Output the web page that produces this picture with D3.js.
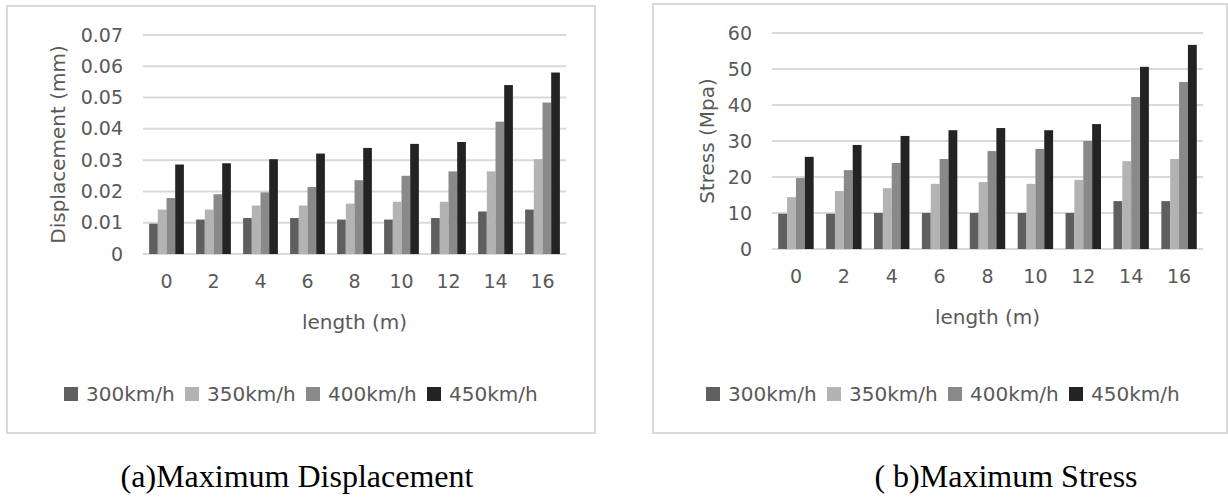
<!DOCTYPE html>
<html>
<head>
<meta charset="utf-8">
<script src="https://cdn.jsdelivr.net/npm/d3@7"></script>
<style>
  body { margin: 0; background: #fff; }
  svg text { font-family: "DejaVu Sans", sans-serif; fill: #595959; }
  svg text.caption { font-family: "Liberation Serif", "Times New Roman", serif; fill: #000; }
</style>
</head>
<body>
<svg id="fig" width="1228" height="499"></svg>
<script>
// categories and series
const lengths = ["0", "2", "4", "6", "8", "10", "12", "14", "16"];
const speeds = ["300km/h", "350km/h", "400km/h", "450km/h"];
const speedColors = ["#5f5f5f", "#b3b3b3", "#898989", "#232323"];

// (a) maximum displacement (mm), one array per speed
const disp300 = [0.0097, 0.0110, 0.0115, 0.0115, 0.0110, 0.0110, 0.0115, 0.0136, 0.0142];
const disp350 = [0.0142, 0.0142, 0.0155, 0.0155, 0.0161, 0.0167, 0.0167, 0.0264, 0.0303];
const disp400 = [0.0179, 0.0191, 0.0197, 0.0214, 0.0236, 0.0250, 0.0264, 0.0423, 0.0484];
const disp450 = [0.0286, 0.0290, 0.0303, 0.0321, 0.0339, 0.0352, 0.0358, 0.0540, 0.0580];
const dispTicks = [0, 0.01, 0.02, 0.03, 0.04, 0.05, 0.06, 0.07];

// (b) maximum stress (MPa)
const stress300 = [9.8, 9.8, 10.0, 10.0, 10.0, 10.0, 10.0, 13.3, 13.3];
const stress350 = [14.4, 16.1, 16.9, 18.1, 18.6, 18.1, 19.2, 24.4, 25.0];
const stress400 = [19.7, 21.9, 23.9, 25.0, 27.2, 27.8, 30.0, 42.2, 46.4];
const stress450 = [25.6, 28.9, 31.4, 33.0, 33.6, 33.0, 34.7, 50.6, 56.7];
const stressTicks = [0, 10, 20, 30, 40, 50, 60];

const svg = d3.select("#fig");

function drawChart(cfg) {
    const g = svg.append("g");

    // chart frame
    g.append("rect")
        .attr("x", cfg.box[0]).attr("y", cfg.box[1])
        .attr("width", cfg.box[2]).attr("height", cfg.box[3])
        .attr("fill", "#fff").attr("stroke", "#d9d9d9").attr("stroke-width", 2);

    const x = d3.scaleBand()
        .domain(lengths)
        .range([cfg.left, cfg.right])
        .paddingInner(0.26)
        .paddingOuter(0.13);

    const xs = d3.scaleBand()
        .domain(speeds)
        .range([0, x.bandwidth()]);

    const y = d3.scaleLinear()
        .domain([0, d3.max(cfg.ticks)])
        .range([cfg.bottom, cfg.top]);

    // gridlines
    g.append("g").selectAll("line")
        .data(cfg.ticks)
        .join("line")
        .attr("x1", cfg.left).attr("x2", cfg.right)
        .attr("y1", d => y(d)).attr("y2", d => y(d))
        .attr("stroke", "#d9d9d9").attr("stroke-width", 2);

    // y axis labels
    const yAxis = g.append("g")
        .attr("transform", `translate(${cfg.left - 20},0)`)
        .call(d3.axisLeft(y).tickValues(cfg.ticks).tickFormat(cfg.fmt).tickSize(0).tickPadding(0));
    yAxis.select(".domain").remove();
    yAxis.selectAll("text").attr("font-size", 19).attr("font-family", null).attr("fill", null);

    // x axis labels
    const xAxis = g.append("g")
        .attr("transform", `translate(0,${cfg.bottom + 20})`)
        .call(d3.axisBottom(x).tickSize(0).tickPadding(0));
    xAxis.select(".domain").remove();
    xAxis.selectAll("text").attr("font-size", 19).attr("font-family", null).attr("fill", null);

    // bars
    const rows = lengths.map((l, i) => ({ len: l, vals: cfg.series.map(s => s[i]) }));
    g.append("g").selectAll("g")
        .data(rows)
        .join("g")
        .attr("transform", d => `translate(${x(d.len)},0)`)
        .selectAll("rect")
        .data(d => d.vals.map((v, k) => ({ v: v, k: k })))
        .join("rect")
        .attr("x", d => xs(speeds[d.k]))
        .attr("width", xs.bandwidth())
        .attr("y", d => y(d.v))
        .attr("height", d => y(0) - y(d.v))
        .attr("fill", d => speedColors[d.k]);

    // axis titles
    g.append("text")
        .attr("x", (cfg.left + cfg.right) / 2)
        .attr("y", cfg.bottom + 75)
        .attr("text-anchor", "middle")
        .attr("font-size", 20)
        .text("length (m)");

    g.append("text")
        .attr("transform", `translate(${cfg.yTitleX},${(cfg.top + cfg.bottom) / 2}) rotate(-90)`)
        .attr("text-anchor", "middle")
        .attr("font-size", 20)
        .text(cfg.yTitle);

    // legend
    const legend = g.append("g")
        .attr("transform", `translate(${cfg.legendX},${cfg.legendY})`);
    const item = legend.selectAll("g")
        .data(speeds)
        .join("g")
        .attr("transform", (d, i) => `translate(${i * 121},0)`);
    item.append("rect")
        .attr("x", 0).attr("y", -14)
        .attr("width", 14).attr("height", 14)
        .attr("fill", (d, i) => speedColors[i]);
    item.append("text")
        .attr("x", 22).attr("y", 0)
        .attr("font-size", 20)
        .text(d => d);

    // caption
    svg.append("text")
        .attr("class", "caption")
        .attr("x", cfg.captionX).attr("y", 487)
        .attr("text-anchor", "middle")
        .attr("font-size", 32)
        .text(cfg.caption);
}

function main() {
    drawChart({
        box: [7, 6, 588, 427],
        left: 143, right: 566, top: 35, bottom: 254,
        ticks: dispTicks,
        fmt: d => d === 0 ? "0" : d.toFixed(2),
        series: [disp300, disp350, disp400, disp450],
        yTitle: "Displacement (mm)", yTitleX: 65,
        legendX: 64, legendY: 401,
        caption: "(a)Maximum Displacement", captionX: 297
    });
    drawChart({
        box: [653, 4, 574, 429],
        left: 772, right: 1203, top: 33, bottom: 249,
        ticks: stressTicks,
        fmt: d => String(d),
        series: [stress300, stress350, stress400, stress450],
        yTitle: "Stress (Mpa)", yTitleX: 714,
        legendX: 706, legendY: 401,
        caption: "( b)Maximum Stress", captionX: 1006
    });
}

main();
</script>
</body>
</html>
